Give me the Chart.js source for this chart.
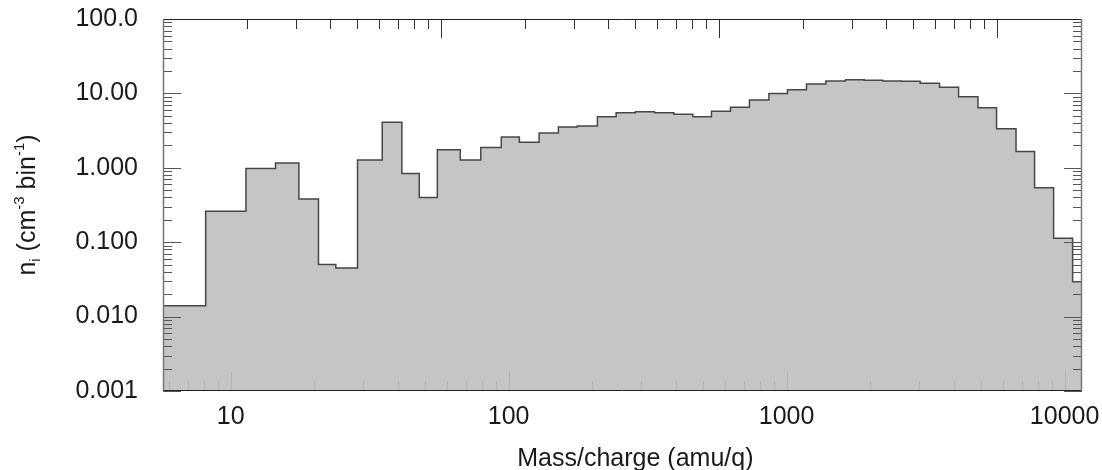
<!DOCTYPE html>
<html lang="en">
<head>
    <meta charset="UTF-8">
    <title>Ion density vs mass/charge</title>
    <style>
        body {
            margin: 0;
            padding: 0;
            background-color: #fff;
        }
    </style>
</head>
<body>
    <canvas id="massChart" width="1102" height="470"></canvas>
    <script src="https://cdn.jsdelivr.net/npm/chart.js"></script>
    <script>
        // bin edges (amu/q) and density per bin
        const binEdges = [5.71, 8.13, 11.35, 14.5, 17.6, 20.7, 23.9, 28.6, 35.1, 41.3, 47.7, 55.4, 67.0, 79.4, 94.1,
            109.3, 128.7, 151, 176.8, 208.6, 243.6, 285.8, 334.6, 392.9, 460, 536.6, 628, 735, 863.6,
            1007, 1179, 1384, 1629, 1902, 2213, 2590, 3024, 3549, 4155, 4879, 5692, 6687, 7799, 9130, 10686, 11550];
        const binValues = [0.014, 0.26, 0.98, 1.16, 0.38, 0.050, 0.045, 1.27, 4.08, 0.84, 0.40, 1.75, 1.27, 1.88, 2.59,
            2.20, 2.94, 3.53, 3.65, 4.86, 5.51, 5.68, 5.51, 5.23, 4.87, 5.74, 6.50, 8.15, 10.0,
            11.2, 13.4, 14.7, 15.3, 15.0, 14.7, 14.6, 13.7, 12.1, 9.04, 6.43, 3.36, 1.65, 0.541, 0.113, 0.0295];

        const xMin = 5.71;
        const xMax = 11550;
        const yMin = 0.001;
        const yMax = 100;
        const xTickValues = [10, 100, 1000, 10000];
        const xTickLabels = ['10', '100', '1000', '10000'];
        const yTickValues = [0.001, 0.01, 0.1, 1, 10, 100];
        const yTickLabels = ['0.001', '0.010', '0.100', '1.000', '10.00', '100.0'];
        // top axis runs from 1 at the left edge (no labels)
        const topAxisFactor = xMin;

        const FONT = 'Liberation Sans, Arial, sans-serif';
        const INK = '#1a1a1a';

        const points = binEdges.map((e, i) => ({ x: e, y: binValues[Math.min(i, binValues.length - 1)] }));

        function logSteps(lo, hi) {
            const out = [];
            for (let d = Math.pow(10, Math.floor(Math.log10(lo))); d <= hi; d *= 10) {
                for (let k = 1; k <= 9; k++) {
                    const v = k * d;
                    if (v >= lo * 0.9999 && v <= hi * 1.0001) out.push({ v: v, major: k === 1 });
                }
            }
            return out;
        }

        function drawRuns(ctx, runs, x, y) {
            runs.forEach(r => {
                ctx.font = r.size + 'px ' + FONT;
                ctx.fillText(r.text, x, y + (r.dy || 0));
                x += ctx.measureText(r.text).width;
            });
        }

        const frameTicks = {
            id: 'frameTicks',
            beforeDatasetsDraw(chart) {
                // bottom ticks sit under the filled histogram
                const { ctx, chartArea: a, scales: { x } } = chart;
                ctx.save();
                ctx.strokeStyle = '#222';
                ctx.lineWidth = 1;
                logSteps(xMin, xMax).forEach(t => {
                    const px = Math.round(x.getPixelForValue(t.v)) + 0.5;
                    ctx.beginPath();
                    ctx.moveTo(px, a.bottom);
                    ctx.lineTo(px, a.bottom - (t.major ? 19 : 10));
                    ctx.stroke();
                });
                ctx.restore();
            },
            afterDatasetsDraw(chart) {
                const { ctx, chartArea: a, scales: { x, y } } = chart;
                ctx.save();
                ctx.lineWidth = 1;

                // top axis ticks
                ctx.strokeStyle = '#333';
                logSteps(1, xMax / topAxisFactor).forEach(t => {
                    const px = Math.round(x.getPixelForValue(t.v * topAxisFactor)) + 0.5;
                    ctx.beginPath();
                    ctx.moveTo(px, a.top);
                    ctx.lineTo(px, a.top + (t.major ? 19 : 10));
                    ctx.stroke();
                });

                // left and right ticks
                ctx.strokeStyle = '#555';
                logSteps(yMin, yMax).forEach(t => {
                    const py = Math.round(y.getPixelForValue(t.v)) + 0.5;
                    const len = t.major ? 18 : 9;
                    ctx.beginPath();
                    ctx.moveTo(a.left, py);
                    ctx.lineTo(a.left + len, py);
                    ctx.moveTo(a.right, py);
                    ctx.lineTo(a.right - len, py);
                    ctx.stroke();
                });

                // frame
                ctx.strokeStyle = '#222';
                ctx.beginPath();
                ctx.moveTo(a.left, a.top + 0.5);
                ctx.lineTo(a.right, a.top + 0.5);
                ctx.moveTo(a.left, a.bottom - 0.5);
                ctx.lineTo(a.right, a.bottom - 0.5);
                ctx.stroke();
                ctx.strokeStyle = '#777';
                ctx.lineWidth = 1.5;
                ctx.beginPath();
                ctx.moveTo(a.left + 0.5, a.top);
                ctx.lineTo(a.left + 0.5, a.bottom);
                ctx.moveTo(a.right - 0.5, a.top);
                ctx.lineTo(a.right - 0.5, a.bottom);
                ctx.stroke();

                // axis titles
                ctx.fillStyle = INK;
                ctx.textBaseline = 'alphabetic';
                ctx.textAlign = 'center';
                ctx.font = '25px ' + FONT;
                ctx.fillText('Mass/charge (amu/q)', a.left + (a.right - a.left) * 0.514, 466);

                ctx.textAlign = 'left';
                const runs = [
                    { text: 'n', size: 25 },
                    { text: 'i', size: 15, dy: 5 },
                    { text: ' (cm', size: 25 },
                    { text: '-3', size: 15, dy: -11 },
                    { text: ' bin', size: 25 },
                    { text: '-1', size: 15, dy: -11 },
                    { text: ')', size: 25 }
                ];
                let w = 0;
                runs.forEach(r => { ctx.font = r.size + 'px ' + FONT; w += ctx.measureText(r.text).width; });
                ctx.translate(35, (a.top + a.bottom) / 2);
                ctx.rotate(-Math.PI / 2);
                drawRuns(ctx, runs, -w / 2, 0);
                ctx.restore();
            }
        };

        new Chart(document.getElementById('massChart'), {
            type: 'line',
            data: {
                datasets: [{
                    data: points,
                    stepped: 'before',
                    borderColor: '#474747',
                    borderWidth: 1.5,
                    backgroundColor: 'rgba(192, 192, 192, 0.92)',
                    fill: 'start',
                    pointRadius: 0,
                    tension: 0
                }]
            },
            options: {
                responsive: false,
                animation: false,
                events: [],
                layout: { padding: { left: 0, right: 20, top: 19, bottom: 0 } },
                plugins: { legend: { display: false }, tooltip: { enabled: false } },
                scales: {
                    x: {
                        type: 'logarithmic',
                        min: xMin,
                        max: xMax,
                        grid: { display: false, drawTicks: false },
                        border: { display: false },
                        afterBuildTicks: s => { s.ticks = xTickValues.map(v => ({ value: v })); },
                        afterFit: s => { s.height = 79; s.paddingLeft = 0; s.paddingRight = 0; },
                        ticks: {
                            autoSkip: false,
                            maxRotation: 0,
                            padding: 11,
                            color: INK,
                            font: { family: FONT, size: 25 },
                            callback: v => xTickLabels[xTickValues.indexOf(v)] ?? ''
                        }
                    },
                    y: {
                        type: 'logarithmic',
                        min: yMin,
                        max: yMax,
                        grid: { display: false, drawTicks: false },
                        border: { display: false },
                        afterBuildTicks: s => { s.ticks = yTickValues.map(v => ({ value: v })); },
                        afterFit: s => { s.width = 163; s.paddingTop = 0; s.paddingBottom = 0; },
                        ticks: {
                            autoSkip: false,
                            padding: 25,
                            color: INK,
                            font: { family: FONT, size: 25 },
                            callback: v => yTickLabels[yTickValues.indexOf(v)] ?? ''
                        }
                    }
                }
            },
            plugins: [frameTicks]
        });
    </script>
</body>
</html>
